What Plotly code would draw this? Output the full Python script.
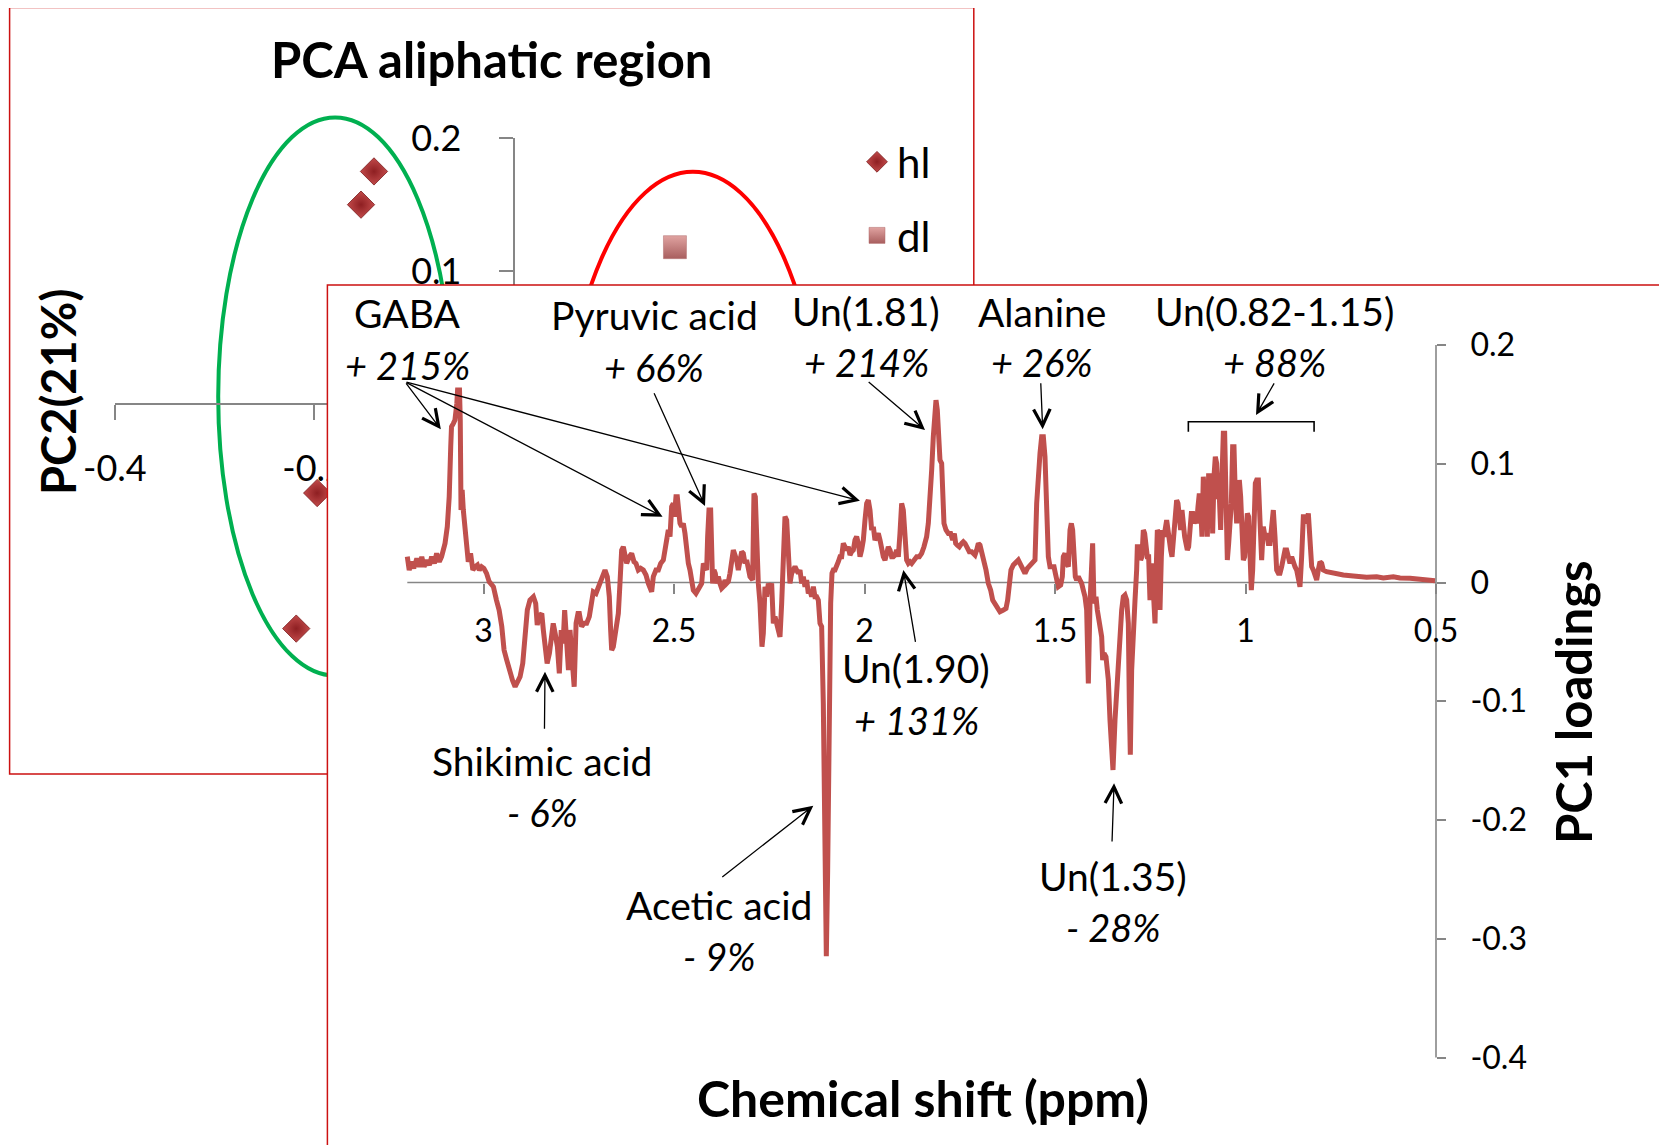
import plotly.graph_objects as go

W, H = 1667, 1145
PAGE = 8  # the page's body margin, in px
FONT = "Lato"

# ---------------- PCA scores (background panel) ----------------
hl_pc1 = [-0.140, -0.153, -0.197, -0.218]
hl_pc2 = [0.175, 0.150, -0.067, -0.169]
dl_pc1 = [0.162]
dl_pc2 = [0.118]
pca_x_ticks = [-0.4, -0.2, 0, 0.2]
pca_x_ticktext = ["-0.4", "-0.2", "0", "0.2"]
pca_y_ticks = [0.2, 0.1, 0, -0.1, -0.2]
pca_y_ticktext = ["0.2", "0.1", "0", "-0.1", "-0.2"]
# group ellipses: (center pc1, center pc2, half-width, half-height)
green_ellipse = (-0.179, 0.0056, 0.1173, 0.210)
red_ellipse = (0.180, -0.051, 0.1305, 0.2257)

# ---------------- PC1 loadings (front panel) ----------------
seg_a = [(3.200,0.0217),(3.195,0.0105),(3.189,0.0175),(3.183,0.0119),(3.175,0.0203),(3.168,0.0133),
 (3.162,0.0217),(3.156,0.0133),(3.149,0.0189),(3.142,0.0147),(3.136,0.0217),(3.129,0.0161),(3.123,0.0245),
 (3.116,0.0175),(3.110,0.0217),(3.101,0.0329),(3.095,0.0470),(3.090,0.0722),(3.086,0.1143),(3.084,0.1312),
 (3.079,0.1340),(3.075,0.1368),(3.070,0.1508),(3.068,0.1621),(3.063,0.1621),(3.061,0.1368),(3.059,0.0610),
 (3.056,0.0779),(3.053,0.0610),(3.049,0.0442),(3.044,0.0245),(3.040,0.0175),(3.034,0.0245),(3.028,0.0105),
 (3.022,0.0133),(3.016,0.0147),(3.011,0.0105),(3.005,0.0133),(2.999,0.0119),(2.992,0.0077),(2.985,0.0007),
 (2.974,-0.0036),(2.966,-0.0148),(2.959,-0.0232),(2.952,-0.0372),(2.946,-0.0569),(2.939,-0.0653),
 (2.930,-0.0765),(2.924,-0.0822),(2.917,-0.0878),(2.911,-0.0836),(2.904,-0.0793),(2.897,-0.0681),
 (2.891,-0.0457),(2.885,-0.0232),(2.878,-0.0148),(2.869,-0.0120),(2.863,-0.0176),(2.859,-0.0358),
 (2.854,-0.0288),(2.847,-0.0260),(2.843,-0.0400),(2.838,-0.0569),(2.833,-0.0681),(2.827,-0.0597),
 (2.821,-0.0372),(2.817,-0.0344),(2.812,-0.0428),(2.806,-0.0541),(2.801,-0.0765),(2.796,-0.0400),
 (2.791,-0.0513),(2.787,-0.0232),(2.782,-0.0485),(2.777,-0.0737),(2.773,-0.0400),(2.768,-0.0597),
 (2.762,-0.0878),(2.757,-0.0344),(2.752,-0.0260)]
seg_b = [(2.7485,-0.0260),(2.7424,-0.0372),(2.7363,-0.0344),(2.7293,-0.0344),(2.7223,-0.0288),(2.7161,-0.0176),
 (2.7118,-0.0078),(2.7048,-0.0092),(2.6986,-0.0036),(2.6925,-0.0008),(2.6855,0.0077),(2.6811,0.0105),
 (2.6750,0.0049),(2.6698,-0.0120),(2.6663,-0.0400),(2.6636,-0.0569),(2.6593,-0.0541),(2.6549,-0.0428),
 (2.6461,-0.0260),(2.6418,-0.0008),(2.6374,0.0273),(2.6330,0.0301),(2.6286,0.0217),(2.6243,0.0161),
 (2.6173,0.0217),(2.6111,0.0245),(2.6050,0.0175),(2.5998,0.0161),(2.5937,0.0105),(2.5875,0.0119),
 (2.5805,0.0105),(2.5735,0.0063),(2.5674,-0.0008),(2.5630,-0.0064),(2.5586,-0.0078),(2.5543,0.0049),
 (2.5473,0.0105),(2.5411,0.0105),(2.5350,0.0161),(2.5280,0.0189),(2.5237,0.0273),(2.5193,0.0413),
 (2.5149,0.0442),(2.5105,0.0386),(2.5062,0.0638),(2.5018,0.0666),(2.4992,0.0554),(2.4948,0.0722),
 (2.4913,0.0722),(2.4878,0.0610),(2.4843,0.0498),(2.4799,0.0470),(2.4755,0.0498),(2.4712,0.0413),
 (2.4668,0.0217),(2.4624,0.0161),(2.4580,0.0105),(2.4537,-0.0008),(2.4493,-0.0064),(2.4423,-0.0092),
 (2.4362,-0.0064),(2.4318,-0.0036),(2.4274,-0.0008),(2.4230,0.0161),(2.4187,0.0133),(2.4143,0.0105),
 (2.4117,0.0386),(2.4082,0.0610),(2.4038,0.0610),(2.4012,0.0386),(2.3986,-0.0008),(2.3951,0.0105),
 (2.3916,0.0077),(2.3881,-0.0008),(2.3837,0.0049),(2.3793,-0.0008),(2.3749,-0.0050),(2.3706,-0.0036),
 (2.3662,0.0021),(2.3618,-0.0008),(2.3574,0.0007),(2.3531,0.0077),(2.3487,0.0161),(2.3443,0.0273),
 (2.3399,0.0231),(2.3356,0.0189),(2.3312,0.0105),(2.3268,0.0217),(2.3224,0.0259),(2.3181,0.0245),
 (2.3137,0.0161),(2.3093,0.0189)]
seg_c = [(2.3006,0.0049),(2.2936,0.0021),(2.2901,0.0750),(2.2866,0.0722),(2.2831,0.0329),(2.2787,-0.0008),
 (2.2743,-0.0176),(2.2691,-0.0541),(2.2656,-0.0428),(2.2612,-0.0036),(2.2568,-0.0120),(2.2524,-0.0008),
 (2.2481,-0.0064),(2.2437,-0.0008),(2.2393,-0.0344),(2.2349,-0.0288),(2.2306,-0.0344),(2.2262,-0.0400),
 (2.2218,-0.0457),(2.2174,-0.0176),(2.2131,0.0217),(2.2087,0.0554),(2.2043,0.0526),(2.1999,0.0217),
 (2.1956,-0.0008),(2.1912,0.0077),(2.1868,0.0105),(2.1824,0.0133),(2.1781,0.0105),(2.1737,0.0077),
 (2.1693,0.0105),(2.1649,-0.0008),(2.1606,0.0049),(2.1562,-0.0036),(2.1518,0.0021),(2.1475,-0.0092),
 (2.1431,-0.0064),(2.1387,-0.0120),(2.1343,-0.0036),(2.1300,-0.0120),(2.1256,-0.0120),(2.1212,-0.0148),
 (2.1168,-0.0344),(2.1125,-0.0372),(2.1081,-0.1018),(2.1037,-0.2422),(2.1002,-0.3148),(2.0967,-0.2422),
 (2.0923,-0.1018),(2.0888,-0.0176),(2.0853,0.0077),(2.0818,0.0105),(2.0775,0.0105),(2.0731,0.0133),
 (2.0687,0.0175),(2.0643,0.0217),(2.0600,0.0217),(2.0556,0.0329),(2.0512,0.0301),(2.0468,0.0273),
 (2.0425,0.0301),(2.0381,0.0231),(2.0337,0.0259),(2.0293,0.0273),(2.0250,0.0357),(2.0206,0.0386),
 (2.0162,0.0329),(2.0118,0.0217),(2.0075,0.0273),(2.0031,0.0357),(1.9987,0.0526),(1.9943,0.0666),
 (1.9900,0.0694),(1.9856,0.0610),(1.9812,0.0442),(1.9768,0.0470),(1.9725,0.0357),(1.9681,0.0386),
 (1.9637,0.0413),(1.9593,0.0357),(1.9550,0.0273),(1.9506,0.0217),(1.9462,0.0189),(1.9418,0.0245),
 (1.9375,0.0301),(1.9331,0.0273),(1.9287,0.0217),(1.9244,0.0217),(1.9200,0.0231),(1.9156,0.0273),
 (1.9112,0.0217),(1.9069,0.0413),(1.9025,0.0666),(1.8981,0.0610),(1.8937,0.0301),(1.8894,0.0189),
 (1.8850,0.0161),(1.8806,0.0175),(1.8762,0.0161),(1.8719,0.0175),(1.8675,0.0189),(1.8631,0.0217)]
seg_d = [(1.8561,0.0217),(1.8500,0.0245),(1.8439,0.0301),(1.8369,0.0386),(1.8325,0.0498),(1.8281,0.0666),
 (1.8237,0.0947),(1.8194,0.1228),(1.8159,0.1508),(1.8124,0.1536),(1.8089,0.1452),(1.8054,0.1228),
 (1.8019,0.1031),(1.7975,0.1003),(1.7949,0.0722),(1.7914,0.0498),(1.7861,0.0442),(1.7800,0.0413),
 (1.7739,0.0413),(1.7686,0.0357),(1.7642,0.0413),(1.7607,0.0329),(1.7564,0.0315),(1.7511,0.0301),
 (1.7450,0.0329),(1.7406,0.0343),(1.7362,0.0329),(1.7301,0.0301),(1.7249,0.0259),(1.7187,0.0259),
 (1.7144,0.0245),(1.7100,0.0231),(1.7056,0.0273),(1.7012,0.0329),(1.6969,0.0315),(1.6925,0.0259),
 (1.6881,0.0189),(1.6811,0.0105),(1.6750,-0.0008),(1.6689,-0.0064),(1.6636,-0.0148),(1.6575,-0.0176),
 (1.6514,-0.0204),(1.6444,-0.0246),(1.6356,-0.0232),(1.6286,-0.0218),(1.6243,-0.0148),(1.6199,0.0049),
 (1.6155,0.0105),(1.6094,0.0147),(1.6024,0.0175),(1.5963,0.0189),(1.5919,0.0161),(1.5849,0.0105),
 (1.5788,0.0077),(1.5726,0.0119),(1.5656,0.0147),(1.5586,0.0175),(1.5525,0.0189),(1.5481,0.0666),
 (1.5438,0.0947),(1.5394,0.1087),(1.5350,0.1228),(1.5306,0.1228),(1.5263,0.1059),(1.5219,0.0666),
 (1.5175,0.0217),(1.5131,0.0133),(1.5088,0.0133),(1.5026,0.0133),(1.4991,0.0077),(1.4956,0.0021),
 (1.4913,-0.0036),(1.4851,-0.0022),(1.4808,0.0049),(1.4782,0.0217),(1.4738,0.0245),(1.4694,0.0161),
 (1.4650,0.0133),(1.4606,0.0442),(1.4571,0.0498),(1.4537,0.0442),(1.4502,0.0133),(1.4467,0.0049),
 (1.4432,0.0021),(1.4388,0.0049),(1.4344,0.0021),(1.4300,-0.0008),(1.4257,-0.0064),(1.4213,-0.0120),
 (1.4169,-0.0232)]
seg_e = [(1.4125,-0.0850),(1.4082,-0.0176),(1.4038,0.0217),(1.4012,0.0329),(1.3977,-0.0176),(1.3924,-0.0120),
 (1.3889,-0.0232),(1.3837,-0.0344),(1.3775,-0.0457),(1.3749,-0.0653),(1.3714,-0.0597),(1.3662,-0.0625),
 (1.3600,-0.0822),(1.3557,-0.1158),(1.3513,-0.1439),(1.3478,-0.1579),(1.3425,-0.1158),(1.3382,-0.0878),
 (1.3338,-0.0653),(1.3294,-0.0400),(1.3250,-0.0232),(1.3207,-0.0120),(1.3163,-0.0106),(1.3119,-0.0148),
 (1.3075,-0.0344),(1.3049,-0.1018),(1.3023,-0.1450),(1.2988,-0.0737),(1.2944,-0.0288),(1.2900,-0.0148),
 (1.2857,0.0105),(1.2839,0.0301),(1.2787,0.0301),(1.2752,0.0189),(1.2717,0.0217),(1.2682,0.0442),
 (1.2647,0.0413),(1.2612,0.0245),(1.2577,0.0217),(1.2542,0.0217),(1.2524,-0.0008),(1.2507,-0.0148),
 (1.2472,0.0161),(1.2437,0.0049),(1.2402,-0.0176),(1.2375,-0.0344),(1.2349,0.0049),(1.2314,0.0442),
 (1.2279,0.0413),(1.2244,-0.0232),(1.2209,0.0217),(1.2174,0.0442),(1.2139,0.0386),(1.2104,0.0470),
 (1.2069,0.0526),(1.2034,0.0442),(1.1999,0.0329),(1.1964,0.0273),(1.1929,0.0217),(1.1894,0.0329),
 (1.1851,0.0526),(1.1807,0.0694),(1.1772,0.0666),(1.1737,0.0582),(1.1702,0.0442),(1.1667,0.0610),
 (1.1632,0.0470),(1.1597,0.0386),(1.1562,0.0329),(1.1527,0.0273),(1.1492,0.0301),(1.1457,0.0554),
 (1.1422,0.0582),(1.1387,0.0582),(1.1352,0.0498),(1.1317,0.0526),(1.1282,0.0498),(1.1247,0.0638),
 (1.1212,0.0750),(1.1177,0.0638),(1.1142,0.0386),(1.1107,0.0891),(1.1072,0.0666),(1.1037,0.0863),
 (1.1002,0.0386),(1.0967,0.0919),(1.0932,0.0610),(1.0897,0.0919),(1.0862,0.0413),(1.0827,0.0891),
 (1.0792,0.1059),(1.0757,0.1003),(1.0722,0.0722),(1.0687,0.0722),(1.0652,0.0442),(1.0617,0.0891),
 (1.0582,0.1256),(1.0547,0.1256),(1.0512,0.0610),(1.0477,0.0189),(1.0442,0.0329),(1.0407,0.0470),
 (1.0372,0.0666),(1.0337,0.1143),(1.0302,0.1143),(1.0267,0.0722),(1.0232,0.0498),(1.0197,0.0666),
 (1.0162,0.0863),(1.0127,0.0722),(1.0092,0.0470),(1.0057,0.0189),(1.0022,0.0217),(0.9987,0.0386),
 (0.9952,0.0582),(0.9917,0.0554),(0.9882,0.0049),(0.9847,-0.0064),(0.9812,0.0105),(0.9777,0.0526),
 (0.9742,0.0835),(0.9707,0.0863)]
seg_f = [(0.9663,0.0863),(0.9620,0.0526),(0.9576,0.0189),(0.9532,0.0470),(0.9488,0.0386),(0.9445,0.0413),
 (0.9401,0.0329),(0.9357,0.0329),(0.9313,0.0554),(0.9270,0.0610),(0.9226,0.0386),(0.9182,0.0105),
 (0.9138,0.0077),(0.9095,0.0077),(0.9051,0.0133),(0.9007,0.0217),(0.8963,0.0273),(0.8920,0.0273),
 (0.8876,0.0217),(0.8832,0.0161),(0.8788,0.0217),(0.8745,0.0161),(0.8701,0.0133),(0.8657,0.0105),
 (0.8613,-0.0008),(0.8570,-0.0036),(0.8526,0.0217),(0.8482,0.0554),(0.8438,0.0554),(0.8395,0.0498),
 (0.8351,0.0582),(0.8307,0.0273),(0.8263,0.0133),(0.8220,0.0105),(0.8176,0.0049),(0.8132,0.0021),
 (0.8089,0.0105),(0.8045,0.0175),(0.8001,0.0161),(0.7957,0.0105),(0.7870,0.0091),(0.7695,0.0077),
 (0.7432,0.0063),(0.7170,0.0055),(0.6820,0.0044),(0.6557,0.0049),(0.6382,0.0038),(0.6120,0.0049),
 (0.5945,0.0038),(0.5682,0.0035),(0.5420,0.0027),(0.5157,0.0015),(0.5026,0.0015)]

shift_ppm = [p for seg in (seg_a, seg_b, seg_c, seg_d, seg_e, seg_f) for p, _ in seg]
pc1_loading = [v for seg in (seg_a, seg_b, seg_c, seg_d, seg_e, seg_f) for _, v in seg]

shift_ticks = [3, 2.5, 2, 1.5, 1, 0.5]
shift_ticktext = ["3", "2.5", "2", "1.5", "1", "0.5"]
load_ticks = [0.2, 0.1, 0, -0.1, -0.2, -0.3, -0.4]
load_ticktext = ["0.2", "0.1", "0", "-0.1", "-0.2", "-0.3", "-0.4"]

# arrows: (tail ppm, tail loading, head ppm, head loading)
arrows = [
    (3.206, 0.169, 3.112, 0.129),
    (3.206, 0.169, 2.530, 0.0554),
    (3.206, 0.169, 2.012, 0.0689),
    (2.554, 0.1607, 2.4186, 0.0644),
    (1.993, 0.170, 1.8412, 0.1284),
    (1.5375, 0.169, 1.5323, 0.129),
    (0.9226, 0.169, 0.9724, 0.141),
    (1.8656, -0.0512, 1.898, 0.0105),
    (2.840, -0.1245, 2.8386, -0.0751),
    (2.3772, -0.2489, 2.1344, -0.188),
    (1.3504, -0.2194, 1.345, -0.169),
]
bracket = (1.15, 0.82, 0.1354, 0.127)

# labels: (name, change, centre x px, name y px, change y px)
labels = [
    ("GABA", "+ 215%", 407, 313, 365),
    ("Pyruvic acid", "+ 66%", 654, 315, 367),
    ("Un(1.81)", "+ 214%", 866, 311, 362),
    ("Alanine", "+ 26%", 1042, 312, 362),
    ("Un(0.82-1.15)", "+ 88%", 1274, 311, 362),
    ("Un(1.90)", "+ 131%", 916, 668, 720),
    ("Shikimic acid", "- 6%", 542, 761, 812),
    ("Acetic acid", "- 9%", 719, 905, 956),
    ("Un(1.35)", "- 28%", 1113, 876, 927),
]

# ---------------- geometry (pixels of the photographed page) ----------------
def pxx(x):
    return (x - PAGE) / W

def pxy(y):
    return 1 - (y - PAGE) / H

# PCA axes: origin px and px per unit
P_OX, P_OY, P_SX, P_SY = 513.5, 404.0, 996.6, 1329.0
pca_xr = [-0.4, 0.35]
pca_yr = [-0.25, 0.2]
pca_xdom = [pxx(P_OX + pca_xr[0] * P_SX), pxx(P_OX + pca_xr[1] * P_SX)]
pca_ydom = [pxy(P_OY - pca_yr[0] * P_SY), pxy(P_OY - pca_yr[1] * P_SY)]

def pca_paper(x, y):
    return pxx(P_OX + x * P_SX), pxy(P_OY - y * P_SY)

# front axes
F_X3, F_SX, F_Y0, F_SY = 483.5, 381.0, 582.5, 1187.5
F_LEFT, F_TOP = 327.4, 285.0
f_xr = [3 + (F_X3 - F_LEFT) / F_SX, 3 - (W + PAGE - F_X3) / F_SX]
f_yr = [(F_Y0 - (H + PAGE)) / F_SY, (F_Y0 - F_TOP) / F_SY]

RED = "#C0504D"
AX = "#868686"

fig = go.Figure()

fig.add_trace(go.Scatter(
    x=hl_pc1, y=hl_pc2, mode="markers", name="hl", legendgroup="a",
    marker=dict(symbol="diamond", size=21, color="#C24A4A",
                gradient=dict(type="radial", color="#8E1F22"),
                line=dict(color="#7A1A1C", width=0.8)),
    xaxis="x", yaxis="y"))
fig.add_trace(go.Scatter(
    x=dl_pc1, y=dl_pc2, mode="markers", name="dl", legendgroup="b",
    marker=dict(symbol="square", size=23, color="#E0A3A1",
                gradient=dict(type="vertical", color="#A85E5E"),
                line=dict(color="#B06A6A", width=0.5)),
    xaxis="x", yaxis="y"))
fig.add_trace(go.Scatter(
    x=shift_ppm, y=pc1_loading, mode="lines", showlegend=False,
    line=dict(color=RED, width=5), xaxis="x2", yaxis="y2"))

shapes = []
# PCA panel border (behind the front panel)
shapes.append(dict(type="rect", xref="paper", yref="paper", layer="below",
                   x0=pxx(9.6), x1=pxx(973.8), y0=pxy(774), y1=pxy(7.4),
                   line=dict(color="#CC1111", width=1.5)))
for (cx, cy, a, b), col in ((green_ellipse, "#00B050"), (red_ellipse, "#FF0000")):
    x0, y0 = pca_paper(cx - a, cy - b)
    x1, y1 = pca_paper(cx + a, cy + b)
    shapes.append(dict(type="circle", xref="paper", yref="paper", layer="below",
                       x0=x0, x1=x1, y0=y0, y1=y1, line=dict(color=col, width=4)))
# front panel border
shapes.append(dict(type="rect", xref="paper", yref="paper", layer="above",
                   x0=pxx(F_LEFT), x1=1.02, y0=-0.02, y1=pxy(F_TOP),
                   line=dict(color="#CC1111", width=1.5)))
# front axis lines
shapes.append(dict(type="line", xref="x2", yref="y2", layer="between",
                   x0=shift_ppm[0], x1=shift_ticks[-1], y0=0, y1=0,
                   line=dict(color=AX, width=1.6)))
shapes.append(dict(type="line", xref="x2", yref="y2", layer="between",
                   x0=shift_ticks[-1], x1=shift_ticks[-1], y0=load_ticks[-1], y1=load_ticks[0],
                   line=dict(color=AX, width=1.6)))
# bracket
bl, br, btop, bbot = bracket
shapes.append(dict(type="path", xref="x2", yref="y2", layer="above",
                   path=f"M{bl},{bbot} L{bl},{btop} L{br},{btop} L{br},{bbot}",
                   line=dict(color="black", width=1.6)))

annotations = []
for tx, ty, hx, hy in arrows:
    annotations.append(dict(x=hx, y=hy, ax=tx, ay=ty, xref="x2", yref="y2",
                            axref="x2", ayref="y2", text="", showarrow=True,
                            arrowhead=5, arrowsize=2.5, arrowwidth=1.3,
                            arrowcolor="black", standoff=0, startstandoff=0))
for name, chg, cx, ny, cy in labels:
    annotations.append(dict(x=pxx(cx), y=pxy(ny), xref="paper", yref="paper",
                            text=name, showarrow=False, xanchor="center", yanchor="middle",
                            font=dict(family=FONT, size=39, color="black")))
    annotations.append(dict(x=pxx(cx), y=pxy(cy), xref="paper", yref="paper",
                            text=f"<i>{chg}</i>", showarrow=False, xanchor="center",
                            yanchor="middle", font=dict(family=FONT, size=38, color="black")))
# titles
annotations.append(dict(x=pxx(491), y=pxy(59), xref="paper", yref="paper", showarrow=False,
                        text="<b>PCA aliphatic region</b>", xanchor="center", yanchor="middle",
                        font=dict(family=FONT, size=49, color="black")))
annotations.append(dict(x=pxx(58), y=pxy(392), xref="paper", yref="paper", showarrow=False,
                        text="<b>PC2(21%)</b>", textangle=-90, xanchor="center", yanchor="middle",
                        font=dict(family=FONT, size=47, color="black")))
annotations.append(dict(x=pxx(923), y=pxy(1098), xref="paper", yref="paper", showarrow=False,
                        text="<b>Chemical shift (ppm)</b>", xanchor="center", yanchor="middle",
                        font=dict(family=FONT, size=50, color="black")))
annotations.append(dict(x=pxx(1573), y=pxy(702), xref="paper", yref="paper", showarrow=False,
                        text="<b>PC1 loadings</b>", textangle=-90, xanchor="center", yanchor="middle",
                        font=dict(family=FONT, size=49, color="black")))

axis_common = dict(showgrid=False, zeroline=False, ticks="outside", tickcolor=AX,
                   tickwidth=1.6, color="black", automargin=False)

fig.update_layout(
    width=W, height=H, autosize=False, margin=dict(l=0, r=0, t=0, b=0, pad=0, autoexpand=False),
    paper_bgcolor="white", plot_bgcolor="white",
    font=dict(family=FONT, color="black"),
    xaxis=dict(domain=pca_xdom, range=pca_xr, anchor="free", position=pxy(P_OY),
               showline=True, linecolor=AX, linewidth=1.6, ticklen=15,
               tickvals=pca_x_ticks, ticktext=pca_x_ticktext,
               tickfont=dict(family=FONT, size=36), ticklabelstandoff=18, **axis_common),
    yaxis=dict(domain=pca_ydom, range=pca_yr, anchor="free", position=pxx(P_OX),
               showline=True, linecolor=AX, linewidth=1.6, ticklen=14,
               tickvals=pca_y_ticks, ticktext=pca_y_ticktext,
               tickfont=dict(family=FONT, size=36), ticklabelstandoff=30, **axis_common),
    xaxis2=dict(domain=[pxx(F_LEFT), 1], range=f_xr, anchor="free", position=pxy(F_Y0),
                showline=False, ticklen=10, tickvals=shift_ticks, ticktext=shift_ticktext,
                tickfont=dict(family=FONT, size=32), ticklabelstandoff=10, **axis_common),
    yaxis2=dict(domain=[0, pxy(F_TOP)], range=f_yr, anchor="free", position=pxx(F_X3 + 2.5 * F_SX),
                side="right", showline=False, ticklen=9, tickvals=load_ticks, ticktext=load_ticktext,
                tickfont=dict(family=FONT, size=32), ticklabelstandoff=18, **axis_common),
    shapes=shapes, annotations=annotations,
    showlegend=True,
    legend=dict(x=pxx(857), y=pxy(128), xanchor="left", yanchor="top",
                bgcolor="rgba(0,0,0,0)", font=dict(family=FONT, size=42),
                tracegroupgap=16, itemwidth=30),
)

fig.write_html("out.html")
